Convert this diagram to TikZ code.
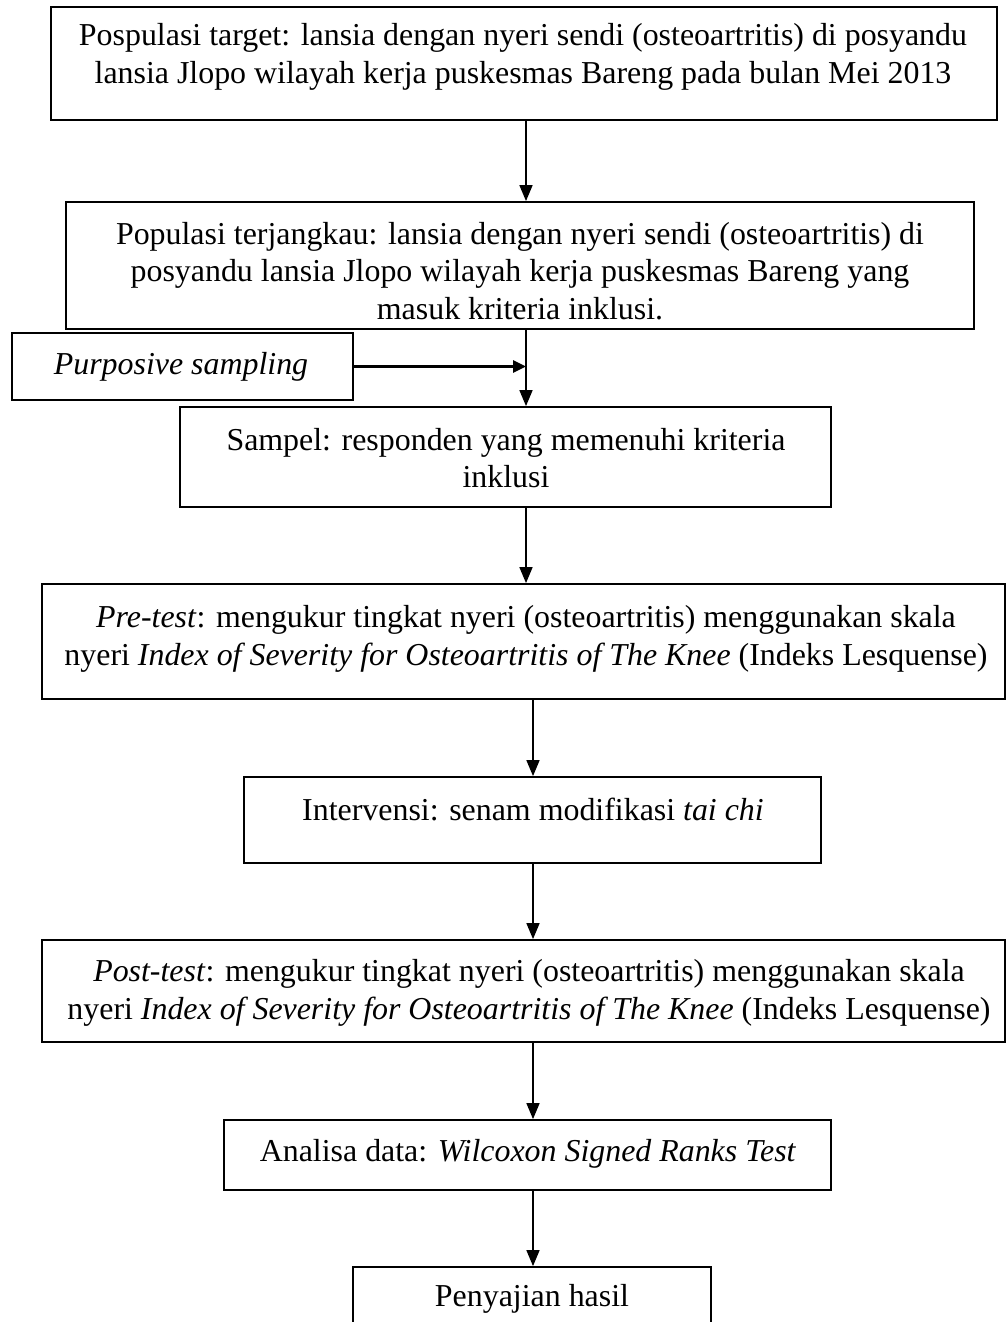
\documentclass[tikz,border=0pt]{standalone}
\usepackage{fontspec}
\setmainfont{Liberation Serif}
\usetikzlibrary{arrows.meta}
\begin{document}
\begin{tikzpicture}[x=1pt,y=-1pt,
  box/.style={draw, line width=1.8pt, rectangle, inner sep=0pt},
  txt/.style={font=\fontsize{31.9pt}{37.5pt}\selectfont, align=center, inner sep=0pt},
  arr/.style={line width=1.6pt, -{Triangle[length=16pt,width=13pt]}},
  arrthick/.style={line width=2.6pt, -{Triangle[length=13pt,width=12pt]}}]
\useasboundingbox (0,0) rectangle (1007,1322);
\coordinate (xa) at (526,0);
\coordinate (xb) at (533,0);
% boxes
\node[box, minimum width=946pt, minimum height=113pt] (b1) at (524,63.5) {};
\node[box, minimum width=908pt, minimum height=127pt] (b2) at (520,265.5) {};
\node[box, minimum width=341pt, minimum height=67pt] (ps) at (182.5,366.5) {};
\node[box, minimum width=651pt, minimum height=100pt] (b3) at (505.5,457) {};
\node[box, minimum width=963pt, minimum height=115pt] (b4) at (523.5,641.5) {};
\node[box, minimum width=577pt, minimum height=86pt] (b5) at (532.5,820) {};
\node[box, minimum width=963pt, minimum height=102pt] (b6) at (523.5,991) {};
\node[box, minimum width=607pt, minimum height=70pt] (b7) at (527.5,1155) {};
\node[box, minimum width=358pt, minimum height=66pt] (b8) at (532,1300) {};
% texts
\node[txt] (t1) at (523,57) {Pospulasi target: lansia dengan nyeri sendi (osteoartritis) di posyandu\\lansia Jlopo wilayah kerja puskesmas Bareng pada bulan Mei 2013};
\node[txt] (t2) at (520,271) {Populasi terjangkau: lansia dengan nyeri sendi (osteoartritis) di\\posyandu lansia Jlopo wilayah kerja puskesmas Bareng yang\\masuk kriteria inklusi.};
\node[txt] (tp) at (181,367) {\textit{Purposive sampling}};
\node[txt] (t3) at (506,458) {Sampel: responden yang memenuhi kriteria\\inklusi};
\node[txt] (t4) at (526,639) {\textit{Pre-test}: mengukur tingkat nyeri (osteoartritis) menggunakan skala\\nyeri \textit{Index of Severity for Osteoartritis of The Knee} (Indeks Lesquense)};
\node[txt] (t5) at (533,809) {Intervensi: senam modifikasi \textit{tai chi}};
\node[txt] (t6) at (529,993) {\textit{Post-test}: mengukur tingkat nyeri (osteoartritis) menggunakan skala\\nyeri \textit{Index of Severity for Osteoartritis of The Knee} (Indeks Lesquense)};
\node[txt] (t7) at (528,1154) {Analisa data: \textit{Wilcoxon Signed Ranks Test}};
\node[txt] (t8) at (532,1299) {Penyajian hasil};
% connectors
\draw[arr] (b1.south -| xa) -- (b2.north -| xa);
\draw[arr] (b2.south -| xa) -- (b3.north -| xa);
\draw[arrthick] (ps.east) -- (ps.east -| xa);
\draw[arr] (b3.south -| xa) -- (b4.north -| xa);
\draw[arr] (b4.south -| xb) -- (b5.north -| xb);
\draw[arr] (b5.south -| xb) -- (b6.north -| xb);
\draw[arr] (b6.south -| xb) -- (b7.north -| xb);
\draw[arr] (b7.south -| xb) -- (b8.north -| xb);
\end{tikzpicture}
\end{document}
